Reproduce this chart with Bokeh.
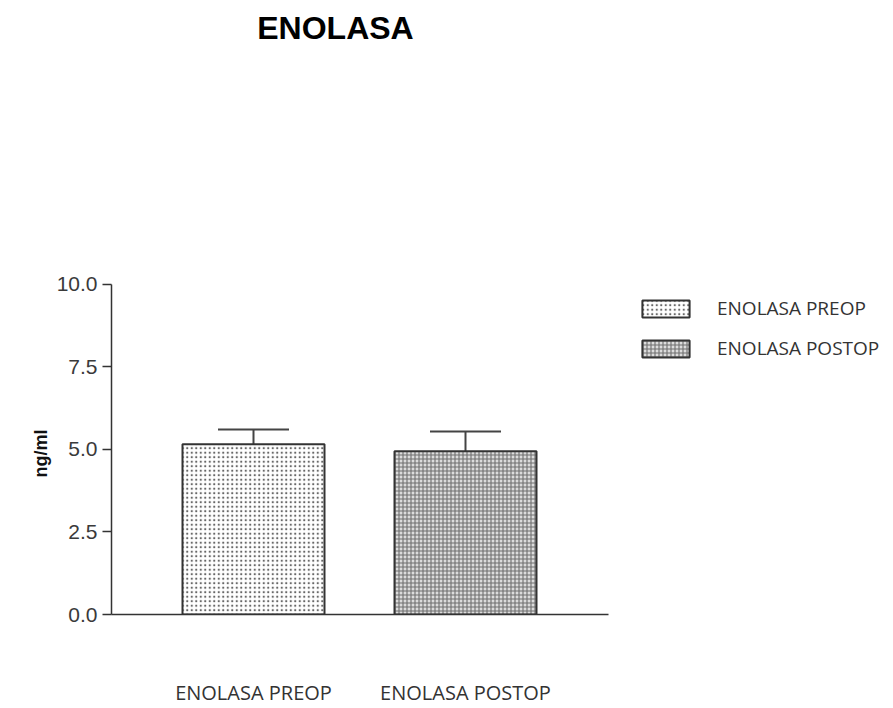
from bokeh.plotting import figure
from bokeh.models import (Range1d, FixedTicker, NumeralTickFormatter, Whisker,
                          TeeHead, ColumnDataSource, Legend, LegendItem, Label,
                          Title)
from bokeh.embed import file_html
from bokeh.resources import INLINE

# Enolase serum levels, mean with SEM
categories = ["ENOLASA PREOP", "ENOLASA POSTOP"]
means = [5.15, 4.94]
sems = [0.45, 0.60]
y_ticks = [0.0, 2.5, 5.0, 7.5, 10.0]

xs = list(range(len(categories)))
uppers = [m + s for m, s in zip(means, sems)]

# Page geometry (pixels). The frame spans the whole canvas right of the
# y axis so the legend and the title can live inside it; the axes are
# limited with `bounds` to the actual plotting area.
W, H = 893, 708
LEFT, BOTTOM = 111, 617          # y-axis position, x-axis position
AXIS_TOP = 285                   # pixel row of the top y tick
AXIS_RIGHT = 608                 # pixel column where the x axis ends
SLOT = 212                       # pixels between bar centres
FIRST = 142                      # pixels from y axis to first bar centre

y_top = y_ticks[-1]
y_end = y_top * BOTTOM / (BOTTOM - AXIS_TOP)
x_start = -FIRST / SLOT
x_end = x_start + (W - LEFT) / SLOT
x_axis_end = x_start + (AXIS_RIGHT - LEFT) / SLOT


def px_x(px):
    return x_start + (px - LEFT) / SLOT


def px_y(py):
    return (BOTTOM - py) / BOTTOM * y_end


p = figure(width=W, height=H, output_backend="svg", toolbar_location=None,
           x_range=Range1d(x_start, x_end), y_range=Range1d(0, y_end),
           min_border_left=LEFT, min_border_right=0,
           min_border_top=0, min_border_bottom=H - BOTTOM)
p.grid.visible = False
p.outline_line_color = None
p.background_fill_color = "white"
p.border_fill_color = "white"

p.add_layout(Label(x=px_x(335), y=px_y(28), text="ENOLASA",
                   text_align="center", text_baseline="middle",
                   text_font="Liberation Sans", text_font_style="bold",
                   text_font_size="32px", text_color="black"))

bar_w = 142 / SLOT
r_pre = p.vbar(x=[xs[0]], top=[means[0]], width=bar_w, bottom=0,
               fill_color="white", line_color="#333333", line_width=2,
               hatch_pattern="dot", hatch_scale=4.5, hatch_weight=1.3,
               hatch_color="#666666")
r_post = p.vbar(x=[xs[1]], top=[means[1]], width=bar_w, bottom=0,
                fill_color="#dcdcdc", line_color="#333333", line_width=2,
                hatch_pattern="cross", hatch_scale=4, hatch_weight=1.1,
                hatch_color="#6e6e6e")

err_src = ColumnDataSource(data=dict(x=xs, lower=means, upper=uppers))
p.add_layout(Whisker(source=err_src, base="x", lower="lower", upper="upper",
                     dimension="height", line_color="#444444", line_width=2,
                     upper_head=TeeHead(size=71, line_color="#444444", line_width=2),
                     lower_head=None))

# y axis
yax = p.yaxis[0]
yax.bounds = (0, y_top)
yax.ticker = FixedTicker(ticks=y_ticks)
yax.formatter = NumeralTickFormatter(format="0.0")
yax.major_tick_out = 9
yax.major_tick_in = 0
yax.minor_tick_line_color = None
yax.axis_line_color = "#333333"
yax.axis_line_width = 1.5
yax.major_tick_line_color = "#333333"
yax.major_tick_line_width = 1.5
yax.major_label_text_font = "Liberation Sans"
yax.major_label_text_font_size = "21px"
yax.major_label_text_color = "#3a3a3a"
yax.major_label_standoff = 5

# y axis title, placed beside the axis near the middle of the bounded axis
p.add_layout(Title(text="ng/ml", align="left", offset=137, standoff=6,
                   text_font="Liberation Sans", text_font_style="bold",
                   text_font_size="18px", text_color="#111111"), "left")

# x axis
xax = p.xaxis[0]
xax.bounds = (x_start, x_axis_end)
xax.ticker = FixedTicker(ticks=xs)
xax.major_label_overrides = {x: c for x, c in zip(xs, categories)}
xax.major_tick_line_color = None
xax.minor_tick_line_color = None
xax.axis_line_color = "#333333"
xax.axis_line_width = 1.5
xax.major_label_text_font = "Open Sans"
xax.major_label_text_font_size = "20px"
xax.major_label_text_color = "#333333"
xax.major_label_standoff = 58

legend = Legend(items=[LegendItem(label=categories[0], renderers=[r_pre]),
                       LegendItem(label=categories[1], renderers=[r_post])],
                location=(636 - LEFT, BOTTOM - 364), margin=0, padding=0,
                border_line_color=None, background_fill_alpha=0,
                glyph_width=59, glyph_height=21, label_height=21,
                label_standoff=22, spacing=14,
                label_text_font="Open Sans", label_text_font_size="19px",
                label_text_color="#333333")
p.add_layout(legend, "center")

open("out.html", "w").write(file_html(p, INLINE))
